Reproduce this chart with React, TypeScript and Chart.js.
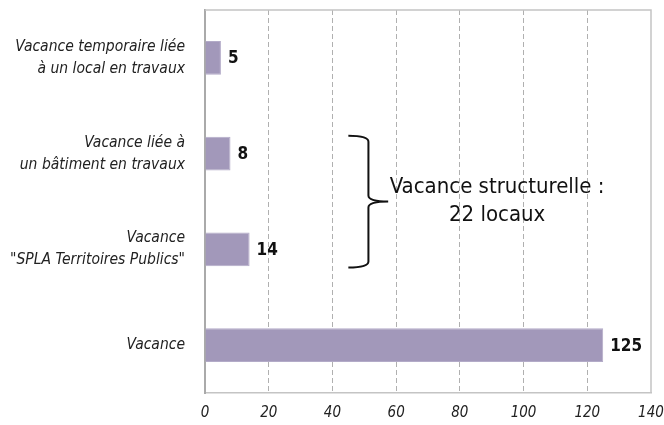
import React, { useEffect, useRef } from "react";
import { Chart, registerables } from "chart.js";

Chart.register(...registerables);

const categories: string[][] = [
  ["Vacance temporaire liée", "à un local en travaux"],
  ["Vacance liée à", "un bâtiment en travaux"],
  ["Vacance", "\"SPLA Territoires Publics\""],
  ["Vacance"],
];
const values: number[] = [5, 8, 14, 125];
const xMin = 0;
const xMax = 140;
const xStep = 20;
const annotationLines: string[] = ["Vacance structurelle :", "22 locaux"];
const bracketFrom = 1; // index of first category inside the brace
const bracketTo = 2; // index of last category inside the brace

const FONT = "'Liberation Sans Narrow', 'DejaVu Sans Condensed', 'Liberation Sans', sans-serif";
const BAR_COLOR = "#a298ba";

const extrasPlugin = {
  id: "extras",
  afterDatasetsDraw(chart: any) {
    const { ctx, chartArea, scales } = chart;
    const xs = scales.x;
    const ys = scales.y;
    ctx.save();
    // top and right frame
    ctx.strokeStyle = "#c4c4c4";
    ctx.lineWidth = 1.5;
    ctx.beginPath();
    ctx.moveTo(chartArea.left, chartArea.top);
    ctx.lineTo(chartArea.right, chartArea.top);
    ctx.lineTo(chartArea.right, chartArea.bottom);
    ctx.stroke();

    // value labels
    const meta = chart.getDatasetMeta(0);
    ctx.fillStyle = "#111";
    ctx.font = `bold 17px ${FONT}`;
    ctx.textAlign = "left";
    ctx.textBaseline = "middle";
    meta.data.forEach((bar: any, i: number) => {
      ctx.fillText(String(values[i]), bar.x + 7, bar.y + 1);
    });

    // brace
    const yTop = ys.getPixelForValue(bracketFrom) - 18;
    const yBot = ys.getPixelForValue(bracketTo) + 18;
    const yMid = (yTop + yBot) / 2;
    const x0 = xs.getPixelForValue(45);
    const xv = xs.getPixelForValue(51.3);
    const xt = xs.getPixelForValue(57.5);
    const r = 6;
    ctx.strokeStyle = "#111";
    ctx.lineWidth = 2;
    ctx.beginPath();
    ctx.moveTo(x0, yTop);
    ctx.quadraticCurveTo(xv, yTop, xv, yTop + r);
    ctx.lineTo(xv, yMid - r);
    ctx.quadraticCurveTo(xv, yMid, xt, yMid);
    ctx.quadraticCurveTo(xv, yMid, xv, yMid + r);
    ctx.lineTo(xv, yBot - r);
    ctx.quadraticCurveTo(xv, yBot, x0, yBot);
    ctx.stroke();

    // annotation text
    ctx.fillStyle = "#111";
    ctx.font = `22px ${FONT}`;
    ctx.textAlign = "center";
    ctx.textBaseline = "middle";
    const cx = xs.getPixelForValue(91.7);
    ctx.fillText(annotationLines[0], cx, yMid - 14);
    ctx.fillText(annotationLines[1], cx, yMid + 14);
    ctx.restore();
  },
};

const noPad = (s: any) => {
  s.paddingTop = 0;
  s.paddingBottom = 0;
  s.paddingLeft = 0;
  s.paddingRight = 0;
};

export default function App() {
  const ref = useRef<HTMLCanvasElement | null>(null);
  useEffect(() => {
    if (!ref.current) return;
    const chart = new Chart(ref.current, {
      type: "bar",
      data: {
        labels: categories,
        datasets: [
          {
            data: values,
            backgroundColor: BAR_COLOR,
            borderColor: "#b3abc8",
            borderWidth: 1,
            categoryPercentage: 1,
            barPercentage: 0.355,
          },
        ],
      },
      options: {
        indexAxis: "y",
        animation: false,
        responsive: true,
        maintainAspectRatio: false,
        layout: { padding: { top: 10, right: 13, left: 0, bottom: 0 } },
        plugins: { legend: { display: false }, tooltip: { enabled: false } },
        scales: {
          x: {
            min: xMin,
            max: xMax,
            ticks: {
              stepSize: xStep,
              padding: 11,
              color: "#222",
              font: { family: FONT, size: 15, style: "italic" },
            },
            grid: {
              drawTicks: false,
              color: (c: any) =>
                c.tick && (c.tick.value === xMin || c.tick.value === xMax) ? "rgba(0,0,0,0)" : "#b0b0b0",
              lineWidth: 1,
            },
            border: { display: true, color: "#c4c4c4", width: 1.5, dash: [5, 3] },
            afterFit: (s: any) => {
              s.height = 32;
              noPad(s);
            },
          },
          y: {
            ticks: {
              padding: 20,
              color: "#222",
              font: { family: FONT, size: 15.5, style: "italic", lineHeight: 22 / 15.5 },
            },
            grid: { display: false, drawTicks: false },
            border: { display: true, color: "#aaaaaa", width: 2 },
            afterFit: (s: any) => {
              s.width = 205;
              noPad(s);
            },
          },
        },
      },
      plugins: [extrasPlugin],
    });
    return () => chart.destroy();
  }, []);
  return (
    <div style={{ position: "fixed", left: 0, top: 0, width: 664, height: 425, background: "#fff" }}>
      <canvas ref={ref} />
    </div>
  );
}
